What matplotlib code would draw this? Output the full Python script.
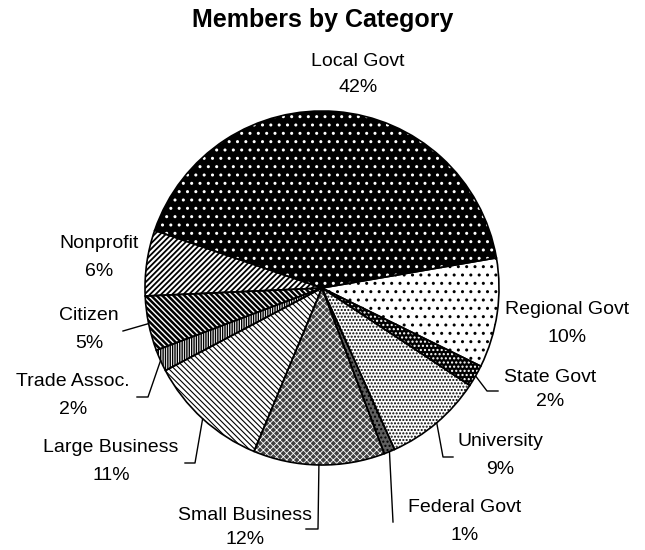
import numpy as np
import matplotlib.pyplot as plt

plt.rcParams['font.family'] = ['Liberation Sans', 'DejaVu Sans']

# данные
categories = ['Local Govt', 'Regional Govt', 'State Govt', 'University', 'Federal Govt',
              'Small Business', 'Large Business', 'Trade Assoc.', 'Citizen', 'Nonprofit']
shares = [42, 10, 2, 9, 1, 12, 11, 2, 5, 6]

# оформление секторов (заливка, штриховка, цвет штриховки, толщина штриховки)
faces = ['black', 'white', 'black', 'white', '#606060', '#404040', 'white', 'white', 'white', 'white']
hatches = ['..', '..', '....', '.....', '....', 'x' * 5, '\\' * 6, '|' * 7, '\\' * 6, '/' * 6]
hatch_colors = ['white', 'black', 'white', 'black', 'black', 'white', 'black', 'black', 'black', 'black']
hatch_widths = [1.0, 1.0, 1.0, 1.0, 1.0, 0.6, 0.8, 1.0, 1.8, 1.3]

# положение подписей в пикселях: x центра, y названия, y процента
label_pos = [(358, 62, 88), (567, 310, 337), (550, 377, 402), (500, 442, 470), (465, 508, 535),
             (245, 515, 540), (111, 448, 475), (73, 382, 410), (89, 316, 343), (99, 243, 272)]
# выноски: промежуточные точки после края круга (в пикселях)
leaders = [None, None, [(487, 391), (498, 391)], [(443, 457), (453, 457)], [(393, 522)],
           [(318, 529), (306, 529)], [(195, 463), (185, 463)], [(148, 397), (137, 397)],
           [(123, 331)], None]

W, H = 645, 550
CX, CY, R = 322, 288, 177
START = 161


def to_data(px, py):
    return (px - CX) / R, (CY - py) / R


fig = plt.figure(figsize=(W / 100, H / 100), dpi=100)
ax = fig.add_axes([0, 0, 1, 1])

wedges, _ = ax.pie(shares, startangle=START, counterclock=False)
for w, fc, ht, hc, hw in zip(wedges, faces, hatches, hatch_colors, hatch_widths):
    w.set_facecolor(fc)
    w.set_edgecolor(hc)
    w.set_hatch(ht)
    w.set_linewidth(0)
    if hasattr(w, 'set_hatch_linewidth'):
        w.set_hatch_linewidth(hw)

# контуры секторов
ax.pie(shares, startangle=START, counterclock=False,
       wedgeprops=dict(facecolor='none', edgecolor='black', linewidth=1.2))

total = sum(shares)
cum = np.cumsum([0] + shares[:-1])
for i, name in enumerate(categories):
    x, y1, y2 = label_pos[i]
    tx, ty1 = to_data(x, y1)
    _, ty2 = to_data(x, y2)
    ax.text(tx, ty1, name, ha='center', va='center', fontsize=14)
    ax.text(tx, ty2, f'{shares[i]}%', ha='center', va='center', fontsize=14)
    if leaders[i] is not None:
        ang = np.deg2rad(START - 360 * (cum[i] + shares[i] / 2) / total)
        xs = [np.cos(ang)]
        ys = [np.sin(ang)]
        for px, py in leaders[i]:
            dx, dy = to_data(px, py)
            xs.append(dx)
            ys.append(dy)
        ax.plot(xs, ys, color='black', lw=1)

ax.set_xlim(-CX / R, (W - CX) / R)
ax.set_ylim(-(H - CY) / R, CY / R)
ax.set_aspect('auto')
ax.axis('off')

fig.text(323 / W, 1 - 20 / H, 'Members by Category', ha='center', va='center',
         fontsize=18, fontweight='bold')

fig.savefig('out.png', dpi=100)
